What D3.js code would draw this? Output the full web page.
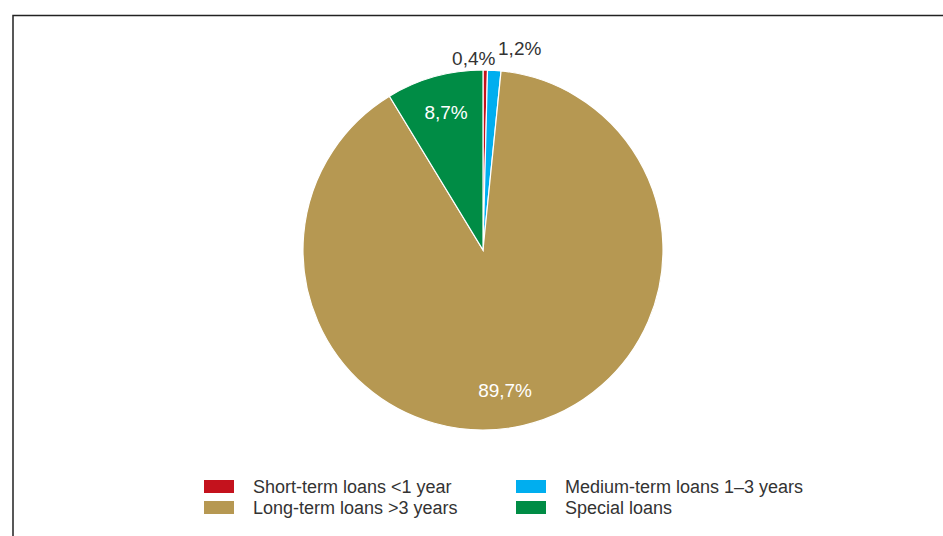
<!DOCTYPE html>
<html>
<head>
<meta charset="utf-8">
<script src="https://cdn.jsdelivr.net/npm/d3@7"></script>
<style>
  body { margin: 0; background: #fff; }
  text { font-family: "Liberation Sans", Arial, sans-serif; }
</style>
</head>
<body>
<div id="chart"></div>
<script>
// loan categories and their shares (%)
var categories = ["Short-term loans <1 year", "Medium-term loans 1\u20133 years", "Long-term loans >3 years", "Special loans"]
var shares = [0.4, 1.2, 89.7, 8.7]
var labels = ["0,4%", "1,2%", "89,7%", "8,7%"]
var colors = ["#c4121d", "#00aeef", "#b69852", "#008c45"]

var width = 943, height = 536
var cx = 483, cy = 250, radius = 180

var svg = d3.select("#chart").append("svg")
  .attr("width", width)
  .attr("height", height)

// frame (top and left edges visible)
svg.append("path")
  .attr("d", "M13,540 L13,15.5 L950,15.5")
  .attr("fill", "none")
  .attr("stroke", "#222")
  .attr("stroke-width", 1.5)

var data = categories.map(function(c, i) { return {name: c, value: shares[i], label: labels[i], color: colors[i]} })

var pie = d3.pie().value(d => d.value).sort(null)
var arc = d3.arc().innerRadius(0).outerRadius(radius)

var pieG = svg.append("g").attr("transform", `translate(${cx},${cy})`)
var arcs = pie(data)

pieG.selectAll("path").data(arcs).enter()
  .append("path")
  .attr("d", arc)
  .attr("fill", d => d.data.color)
  .attr("stroke", "#fff")
  .attr("stroke-width", 1.2)

// labels: small slices outside, big ones inside in white
var outerArc = d3.arc().innerRadius(radius + 12).outerRadius(radius + 12)
var innerArc = d3.arc().innerRadius(radius * 0.78).outerRadius(radius * 0.78)

// nudges so labels sit where the original puts them
var nudge = [[10, 7], [3, -3], [-9, 10], [1, 4]]

pieG.selectAll("text.lbl").data(arcs).enter()
  .append("text")
  .attr("class", "lbl")
  .attr("font-size", 19)
  .attr("text-anchor", function(d, i) { return i == 0 ? "end" : (i == 1 ? "start" : "middle") })
  .attr("x", function(d, i) {
    var c = i < 2 ? outerArc.centroid(d) : innerArc.centroid(d)
    return c[0] + nudge[i][0]
  })
  .attr("y", function(d, i) {
    var c = i < 2 ? outerArc.centroid(d) : innerArc.centroid(d)
    return c[1] + nudge[i][1]
  })
  .attr("fill", function(d, i) { return i < 2 ? "#333" : "#fff" })
  .text(d => d.data.label)

// legend, two columns
var legendPos = [[204, 480], [516, 480], [204, 501], [516, 501]]
var legend = svg.append("g")
legend.selectAll("rect").data(data).enter()
  .append("rect")
  .attr("x", (d, i) => legendPos[i][0])
  .attr("y", (d, i) => legendPos[i][1])
  .attr("width", 30)
  .attr("height", 13)
  .attr("fill", d => d.color)

legend.selectAll("text").data(data).enter()
  .append("text")
  .attr("x", (d, i) => legendPos[i][0] + 49)
  .attr("y", (d, i) => legendPos[i][1] + 13)
  .attr("font-size", 18)
  .attr("fill", "#333")
  .text(d => d.name)
</script>
</body>
</html>
